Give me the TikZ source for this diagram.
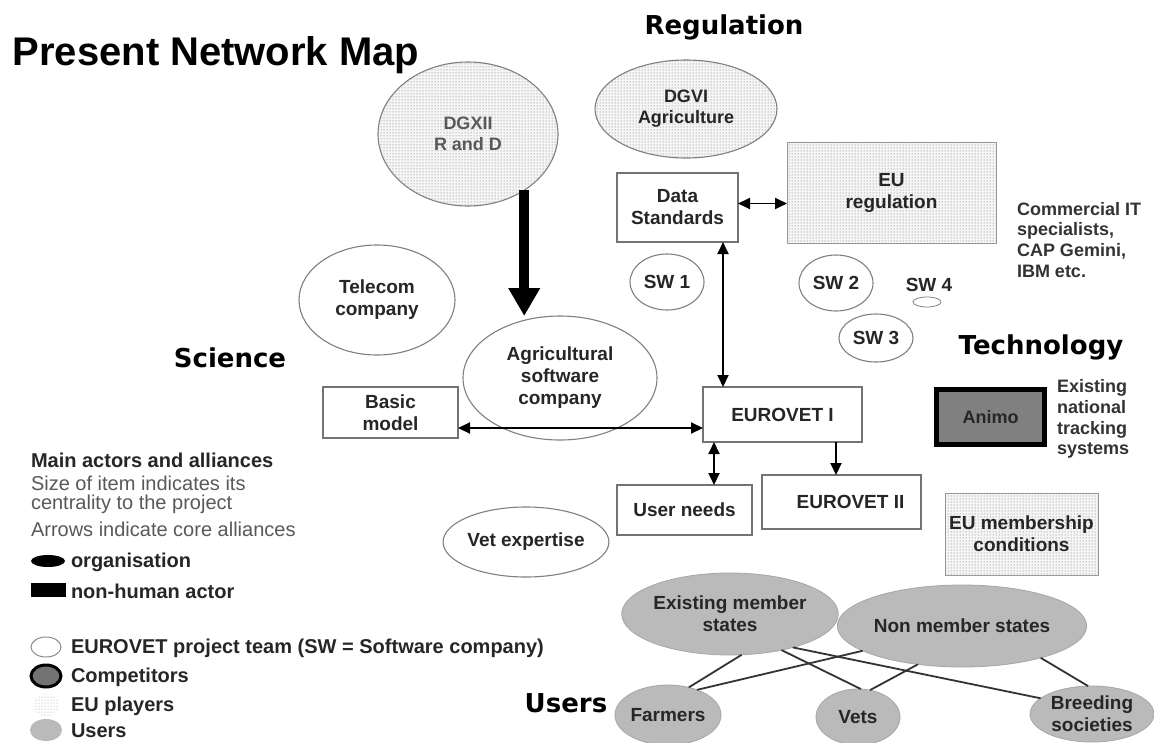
\documentclass[tikz,border=0pt]{standalone}
\usepackage{fontspec}
\setmainfont{Liberation Sans}
\newfontfamily\headfont{DejaVu Sans}
\usetikzlibrary{shapes.geometric,arrows.meta,patterns}
\begin{document}
\begin{tikzpicture}[x=1pt,y=-1pt,
  every node/.style={inner sep=0pt,outer sep=0pt,align=center,text=black!85,
    font=\bfseries\fontsize{19}{22}\selectfont},
  boxn/.style={rectangle,draw=black!55,line width=1.2pt,fill=white},
  elln/.style={ellipse,draw=black!50,line width=1.1pt},
  eup/.style={fill=gray!7,postaction={pattern=dots,pattern color=black!60}},
  usr/.style={ellipse,fill=black!27,draw=black!35,line width=0.8pt},
  conn/.style={line width=1.9pt,black},
  userline/.style={line width=1.8pt,black!80},
  head/.style={font=\headfont\bfseries\fontsize{26}{30}\selectfont,text=black},
  small/.style={font=\bfseries\fontsize{18}{21}\selectfont},
  legb/.style={anchor=west,font=\bfseries\fontsize{20}{22}\selectfont,text=black!85},
  legr/.style={anchor=west,font=\fontsize{20}{22}\selectfont,text=black!65},
  >={Triangle[length=12pt,width=11pt]}
]
\fill[white] (0,0) rectangle (1154,742);
\useasboundingbox (0,0) rectangle (1154,742);

% headings
\node[font=\bfseries\fontsize{40}{44}\selectfont,text=black] (title) at (216,55) {Present Network Map};
\node[head] (hreg) at (724,27) {Regulation};
\node[head] (hsci) at (230,358) {Science};
\node[head] (htech) at (1041,347) {Technology};
\node[head] (husers) at (566,703) {Users};

% EU players
\node[elln,eup,minimum width=180,minimum height=144,small,text=black!65] (dgxii) at (468,134) {DGXII\\R and D};
\node[elln,eup,minimum width=182,minimum height=98,small] (dgvi) at (686,109) {DGVI\\Agriculture};
\node[rectangle,draw=black!40,line width=1pt,eup,minimum width=209,minimum height=101] (eureg) at (891.5,192.5) {EU\\regulation};
\node[rectangle,draw=black!40,line width=1pt,eup,minimum width=153,minimum height=82] (eumem) at (1021.5,534) {EU membership\\conditions};

% project team
\node[boxn,minimum width=121,minimum height=69] (ds) at (677.5,207.5) {Data\\Standards};
\node[elln,minimum width=74,minimum height=56] (sw1) at (667,282) {SW 1};
\node[elln,minimum width=74,minimum height=56] (sw2) at (836,283) {SW 2};
\node[elln,minimum width=74,minimum height=48] (sw3) at (876,338) {SW 3};
\node (sw4) at (929,285) {SW 4};
\node[elln,line width=0.8pt,minimum width=28,minimum height=10] (sw4e) at (927,302) {};
\node[elln,minimum width=156,minimum height=110] (tele) at (377,300) {Telecom\\company};
\node[elln,minimum width=194,minimum height=124] (agri) at (560,378) {Agricultural\\software\\company};
\node[boxn,minimum width=135,minimum height=51] (bm) at (390.5,412.5) {Basic\\model};
\node[boxn,minimum width=159,minimum height=55] (ev1) at (782.5,414.5) {EUROVET I};
\node[boxn,minimum width=135,minimum height=50] (un) at (684.5,510) {User needs};
\node[boxn,minimum width=159,minimum height=54] (ev2) at (841.5,502) {\hspace*{18pt}EUROVET II};
\node[elln,minimum width=126,minimum height=70] (vet) at (526,542) {Vet expertise};

% competitors / technology
\node[rectangle,draw=black,line width=5pt,fill=black!50,minimum width=108,minimum height=55,small,text=black!85] (animo) at (990.5,417) {Animo};
\node[small,anchor=west,align=left,font=\bfseries\fontsize{18}{20.7}\selectfont,text=black!80] (exnat) at (1057,419) {Existing\\national\\tracking\\systems};
\node[small,anchor=north west,align=left,font=\bfseries\fontsize{18}{20.7}\selectfont,text=black!80] (comm) at (1017,202) {Commercial IT\\specialists,\\CAP Gemini,\\IBM etc.};

% users
\node[usr,minimum width=206,minimum height=82] (ex) at (730,614) {Existing member\\states};
\node[usr,minimum width=206,minimum height=82] (non) at (962,626) {Non member states};
\node[usr,minimum width=84,minimum height=60] (far) at (668,715) {Farmers};
\node[usr,minimum width=84,minimum height=56] (vets) at (858,717) {Vets};
\node[usr,minimum width=124,minimum height=56] (bre) at (1092,714) {Breeding\\societies};

% connectors
\draw[conn,<->] ([yshift=4pt]ds.east) -- ([yshift=4pt]ds.east -| eureg.west);
\draw[conn,<->] ([xshift=45.5pt]ds.south) -- ([xshift=45.5pt]ds.south |- ev1.north);
\draw[conn,<->] ([yshift=-15.5pt]bm.east) -- ([yshift=-15.5pt]bm.east -| ev1.west);
\draw[conn,<->] ([xshift=-68.5pt]ev1.south) -- ([xshift=-68.5pt]ev1.south |- un.north);
\draw[conn,->] ([xshift=53.5pt]ev1.south) -- ([xshift=53.5pt]ev1.south |- ev2.north);
\draw[line width=10pt,-{Triangle[length=28pt,width=30pt]}] (dgxii.-45) -- (dgxii.-45 |- agri.north);

\draw[userline] (ex.-74) -- (far.53);
\draw[userline] (far.41) -- (non.-166);
\draw[userline] (ex.-35) -- (vets.84);
\draw[userline] (vets.66) -- (non.-139);
\draw[userline] (ex.-28) -- (bre.163);
\draw[userline] (non.-22) -- (bre.98);

% legend
\node[legb] (l1) at (31,460) {Main actors and alliances};
\node[legr] (l2) at (31,483) {Size of item indicates its};
\node[legr] (l3) at (31,504) {centrality to the project};
\node[legr] (l4) at (31,529) {Arrows indicate core alliances};
\node[ellipse,fill=black,minimum width=34,minimum height=12] (lorg) at (48,561) {};
\node[legb] (lorgt) at (71,562) {organisation};
\node[rectangle,fill=black,minimum width=35,minimum height=14] (lnh) at (48.5,590) {};
\node[legb] (lnht) at (71,591) {non-human actor};
\node[ellipse,draw=black!45,line width=1pt,minimum width=30,minimum height=20] (lteam) at (46,647) {};
\node[legb] (lteamt) at (71,648) {EUROVET project team (SW = Software company)};
\node[ellipse,draw=black,line width=3pt,fill=black!55,minimum width=30,minimum height=22] (lcomp) at (46,676) {};
\node[legb] (lcompt) at (71,677) {Competitors};
\node[ellipse,pattern=dots,pattern color=black!40,minimum width=26,minimum height=22] (leu) at (46,705) {};
\node[legb] (leut) at (71,706) {EU players};
\node[ellipse,fill=black!27,minimum width=32,minimum height=22] (lusr) at (46,730) {};
\node[legb] (lusrt) at (71,731) {Users};
\end{tikzpicture}
\end{document}
